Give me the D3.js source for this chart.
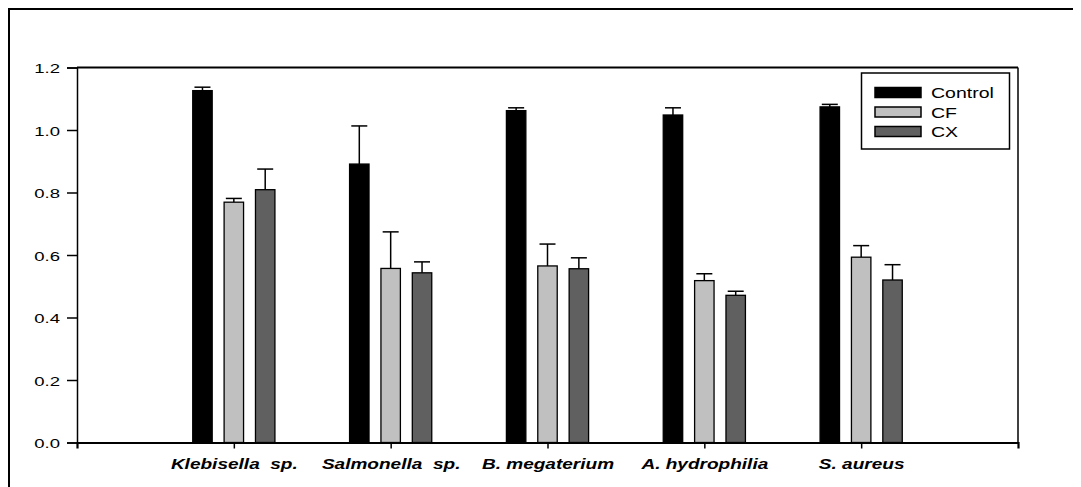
<!DOCTYPE html>
<html>
<head>
<meta charset="utf-8">
<script src="https://cdn.jsdelivr.net/npm/d3@7"></script>
<style>
  html, body { margin: 0; padding: 0; background: #fff; }
  svg { display: block; }
  text { font-family: "Liberation Sans", Arial, sans-serif; fill: #000; }
</style>
</head>
<body>
<svg id="chart" width="1081" height="487"></svg>
<script>
// ---- data ----
const categories = ["Klebisella  sp.", "Salmonella  sp.", "B. megaterium", "A. hydrophilia", "S. aureus"];
const seriesNames = ["Control", "CF", "CX"];
const controlValues = [1.126, 0.891, 1.062, 1.048, 1.074];
const controlErrors = [0.011, 0.122, 0.009, 0.023, 0.008];
const cfValues = [0.769, 0.557, 0.565, 0.518, 0.593];
const cfErrors = [0.012, 0.117, 0.070, 0.022, 0.037];
const cxValues = [0.809, 0.543, 0.556, 0.471, 0.520];
const cxErrors = [0.066, 0.035, 0.035, 0.013, 0.049];
const yTicks = [0, 0.2, 0.4, 0.6, 0.8, 1.0, 1.2];

const seriesColors = ["#000000", "#c0c0c0", "#606060"];
const seriesValues = [controlValues, cfValues, cxValues];
const seriesErrors = [controlErrors, cfErrors, cxErrors];

// ---- layout ----
const svg = d3.select("#chart");
const plot = { left: 77, right: 1018, top: 67.5, bottom: 442.5 };

// outer frame
svg.append("path")
  .attr("d", `M9,487 L9,9 L1073,9`)
  .attr("fill", "none").attr("stroke", "#000").attr("stroke-width", 2);

const x = d3.scaleLinear().domain([0, categories.length + 1]).range([plot.left, plot.right]);
const y = d3.scaleLinear().domain([0, 1.2]).range([plot.bottom, plot.top]);

const barOffset = 0.2;   // in category units
const barWidthU = 0.124;
const barW = x(barWidthU) - x(0);
const capW = 16;

// plot frame: top and right
svg.append("line").attr("x1", plot.left).attr("x2", plot.right).attr("y1", plot.top).attr("y2", plot.top)
  .attr("stroke", "#000").attr("stroke-width", 2);
svg.append("line").attr("x1", plot.right).attr("x2", plot.right).attr("y1", plot.top).attr("y2", plot.bottom)
  .attr("stroke", "#000").attr("stroke-width", 1.5);

// bars
const rows = [];
categories.forEach((c, i) => {
  seriesNames.forEach((s, j) => {
    rows.push({ cat: i, s: j, v: seriesValues[j][i], e: seriesErrors[j][i] });
  });
});
const cx = d => x(d.cat + 1 + (d.s - 1) * barOffset);

// error bars (behind bars)
const eb = svg.append("g").attr("stroke", "#000").attr("stroke-width", 1.5);
eb.selectAll("line.stem").data(rows).join("line")
  .attr("x1", cx).attr("x2", cx)
  .attr("y1", d => y(d.v)).attr("y2", d => y(d.v + d.e));
eb.selectAll("line.cap").data(rows).join("line")
  .attr("x1", d => cx(d) - capW / 2).attr("x2", d => cx(d) + capW / 2)
  .attr("y1", d => y(d.v + d.e)).attr("y2", d => y(d.v + d.e));

svg.append("g").selectAll("rect").data(rows).join("rect")
  .attr("x", d => cx(d) - barW / 2)
  .attr("width", barW)
  .attr("y", d => y(d.v))
  .attr("height", d => y(0) - y(d.v))
  .attr("fill", d => seriesColors[d.s])
  .attr("stroke", "#000")
  .attr("stroke-width", 1.3);

// y axis
const yAxis = svg.append("g").attr("transform", `translate(${plot.left},0)`)
  .call(d3.axisLeft(y).tickValues(yTicks).tickFormat(d3.format(".1f")).tickSize(10).tickPadding(0));
yAxis.select(".domain").attr("stroke-width", 1.5);
yAxis.selectAll(".tick line").attr("stroke-width", 1.5);
yAxis.selectAll(".tick text").remove();
yAxis.selectAll(".tick").append("text")
  .attr("transform", "translate(-17,5) scale(1.47,1)")
  .attr("text-anchor", "end")
  .style("font-size", "12.6px")
  .text(d => d3.format(".1f")(d));

// x axis
const xAxis = svg.append("g").attr("transform", `translate(0,${plot.bottom})`)
  .call(d3.axisBottom(x).tickValues(d3.range(1, categories.length + 1)).tickSize(6).tickFormat(""));
xAxis.select(".domain").attr("stroke-width", 2.2);
xAxis.selectAll(".tick line").attr("stroke-width", 1.5);
xAxis.selectAll(".tick").append("text")
  .attr("transform", "translate(0,26) scale(1.27,1)")
  .attr("text-anchor", "middle")
  .style("font-size", "15px")
  .style("font-weight", "bold")
  .style("font-style", "italic")
  .style("white-space", "pre")
  .text(d => categories[d - 1]);

// legend
const lg = svg.append("g");
lg.append("rect").attr("x", 861.5).attr("y", 73).attr("width", 148).attr("height", 76)
  .attr("fill", "#fff").attr("stroke", "#000").attr("stroke-width", 1.5);
const li = lg.selectAll("g.item").data(seriesNames).join("g")
  .attr("transform", (d, i) => `translate(875,${87.5 + i * 19.5})`);
li.append("rect").attr("width", 46).attr("height", 10)
  .attr("fill", (d, i) => seriesColors[i]).attr("stroke", "#000").attr("stroke-width", 1.5);
li.append("text")
  .attr("transform", "translate(56,10.5) scale(1.3,1)")
  .style("font-size", "15px")
  .text(d => d);
</script>
</body>
</html>
